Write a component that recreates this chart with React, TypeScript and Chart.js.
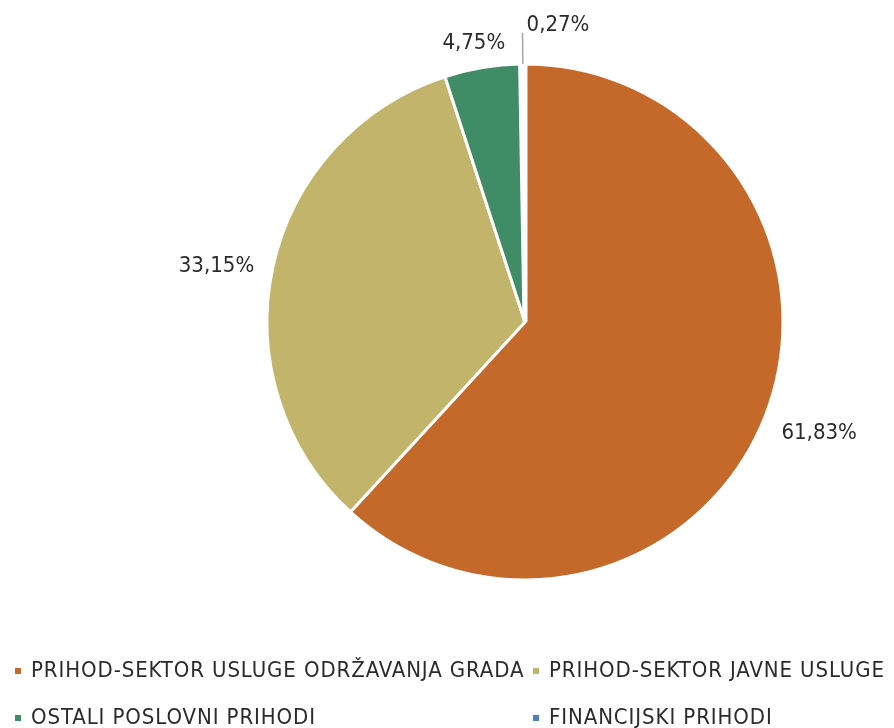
import React, { useEffect, useRef } from "react";
import { Chart, registerables } from "chart.js";

Chart.register(...registerables);

const categories = [
  "PRIHOD-SEKTOR USLUGE ODRŽAVANJA GRADA",
  "PRIHOD-SEKTOR JAVNE USLUGE",
  "OSTALI POSLOVNI PRIHODI",
  "FINANCIJSKI PRIHODI",
];
const values = [61.83, 33.15, 4.75, 0.27];
const valueLabels = ["61,83%", "33,15%", "4,75%", "0,27%"];
const colors = ["#C4692A", "#C3B46C", "#3F8C66", "#4F7FBE"];

const FONT = '"DejaVu Sans Condensed", "DejaVu Sans", sans-serif';

const labelPlugin = {
  id: "pieLabels",
  afterDraw(chart: any) {
    const ctx = chart.ctx;
    const meta = chart.getDatasetMeta(0);
    ctx.save();
    ctx.font = `22px ${FONT}`;
    ctx.fillStyle = "#2B2B2B";
    ctx.textBaseline = "middle";
    meta.data.forEach((arc: any, i: number) => {
      const { x, y, startAngle, endAngle, outerRadius } = arc.getProps(
        ["x", "y", "startAngle", "endAngle", "outerRadius"],
        true
      );
      const mid = (startAngle + endAngle) / 2;
      const dx = Math.cos(mid);
      const dy = Math.sin(mid);
      const text = valueLabels[i];
      const w = ctx.measureText(text).width;
      const h = 22;
      if (values[i] < 1) {
        const x0 = x + outerRadius * dx;
        const y0 = y + outerRadius * dy;
        const x1 = x + (outerRadius + 31) * dx;
        const y1 = y + (outerRadius + 31) * dy;
        ctx.strokeStyle = "#A6A6A6";
        ctx.lineWidth = 1.5;
        ctx.beginPath();
        ctx.moveTo(x0, y0);
        ctx.lineTo(x1, y1);
        ctx.stroke();
        ctx.textAlign = "left";
        ctx.fillText(text, x1 + 4, y1 - 8);
      } else {
        const gap = 20;
        const px = x + (outerRadius + gap) * dx + (dx * w) / 2;
        const py = y + (outerRadius + gap) * dy + (dy * h) / 2 + 6;
        ctx.textAlign = "center";
        ctx.fillText(text, px, py);
      }
    });
    ctx.restore();
  },
};

const legendPlugin = {
  id: "gridLegend",
  afterDraw(chart: any) {
    const ctx = chart.ctx;
    const cols = [15, 533];
    const rows = [671, 718];
    ctx.save();
    ctx.font = `22px ${FONT}`;
    (ctx as any).letterSpacing = "0.9px";
    ctx.textBaseline = "middle";
    ctx.textAlign = "left";
    categories.forEach((c, i) => {
      const cx = cols[i % 2];
      const cy = rows[Math.floor(i / 2)];
      ctx.fillStyle = colors[i];
      ctx.fillRect(cx, cy - 3, 6, 6);
      ctx.fillStyle = "#2B2B2B";
      ctx.fillText(c, cx + 16, cy);
    });
    ctx.restore();
  },
};

export default function App() {
  const ref = useRef<HTMLCanvasElement>(null);
  useEffect(() => {
    document.body.style.margin = "0";
    const chart = new Chart(ref.current as HTMLCanvasElement, {
      type: "pie",
      data: {
        labels: categories,
        datasets: [
          {
            data: values,
            backgroundColor: colors,
            borderColor: "#FFFFFF",
            borderWidth: [3, 3, 3, 5],
          },
        ],
      },
      options: {
        animation: false,
        responsive: false,
        radius: 258,
        layout: { padding: { left: 267, right: 111, top: 64, bottom: 148 } },
        plugins: {
          legend: { display: false },
          tooltip: { enabled: false },
        },
      },
      plugins: [labelPlugin, legendPlugin],
    });
    return () => chart.destroy();
  }, []);
  return (
    <div style={{ width: 894, height: 728, background: "#fff" }}>
      <canvas ref={ref} width={894} height={728} style={{ display: "block" }} />
    </div>
  );
}
